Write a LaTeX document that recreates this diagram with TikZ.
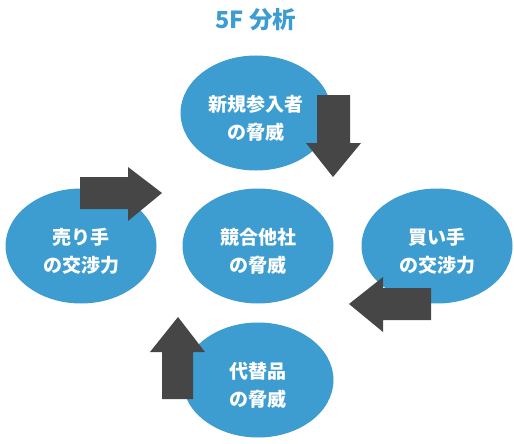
\documentclass[tikz,border=0pt]{standalone}
\usepackage{fontspec}
\setmainfont{Noto Sans CJK JP}
\usepackage{tikz}
\usetikzlibrary{shapes.geometric}
\definecolor{forceblue}{HTML}{3D9DD1}
\definecolor{arrowgray}{HTML}{464646}

\begin{document}
\begin{tikzpicture}[x=1pt, y=-1pt,
  force/.style={ellipse, fill=forceblue, minimum width=151pt, minimum height=115pt,
    inner sep=0pt, text=white, align=center, text height=54pt,
    font=\fontsize{19}{28}\selectfont\bfseries},
  title/.style={text=forceblue, font=\fontsize{23.5}{26}\selectfont\bfseries}]
%\draw [help lines, step=10pt](0,0) grid (514,444);
\useasboundingbox (0,0) rectangle (514,444);

\node [title] (head) at (256,20) {5F 分析};

\node [force] (entrant) at (256,113) {新規参入者\\の脅威};
\node [force] (rivalry) at (258,246) {競合他社\\の脅威};
\node [force] (supplier) at (81,246) {売り手\\の交渉力};
\node [force] (buyer) at (437,246) {買い手\\の交渉力};
\node [force] (substitute) at (258,380) {代替品\\の脅威};

% block arrows
\fill [arrowgray] (317,95) -- (350,95) -- (350,143) -- (361,143) -- (333,177) -- (306,143) -- (317,143) -- cycle;
\fill [arrowgray] (80,177) -- (128,177) -- (128,167) -- (162,193) -- (128,221) -- (128,209) -- (80,209) -- cycle;
\fill [arrowgray] (431,288) -- (383,288) -- (383,277) -- (349,304) -- (383,332) -- (383,320) -- (431,320) -- cycle;
\fill [arrowgray] (162,399) -- (162,352) -- (150,352) -- (178,317) -- (205,352) -- (193,352) -- (193,399) -- cycle;
\end{tikzpicture}
\end{document}
